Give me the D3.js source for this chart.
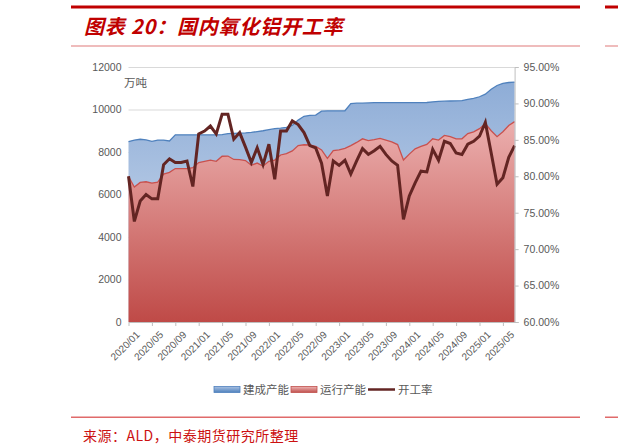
<!DOCTYPE html>
<html><head><meta charset="utf-8">
<script src="https://cdn.jsdelivr.net/npm/d3@7"></script>
<style>
html,body{margin:0;padding:0;background:#fff;}
svg{display:block;}
</style></head>
<body>
<svg id="c" width="618" height="448"></svg>
<script>
// ---- data ----
const months = [];
for (let y = 2020; y <= 2025; y++) for (let m = 1; m <= 12; m++) {
  if (y === 2025 && m > 7) break;
  months.push(y + "/" + String(m).padStart(2, "0"));
}
const builtCapacity = [8490,8560,8600,8570,8500,8560,8560,8520,8810,8810,8810,8810,8810,8810,8810,8810,8820,8860,8880,8890,8900,8920,8960,9000,9050,9100,9120,9160,9250,9500,9680,9720,9740,9920,9940,9940,9940,9940,10280,10300,10300,10310,10320,10320,10320,10320,10320,10320,10320,10320,10320,10330,10360,10380,10390,10400,10410,10420,10480,10520,10600,10720,10950,11130,11230,11270,11290];
const runningCapacity = [6840,6350,6570,6600,6540,6580,6960,7040,7220,7220,7220,7260,7500,7560,7620,7560,7800,7810,7650,7640,7600,7380,7480,7340,7560,7620,7860,7920,8050,8300,8340,8330,8260,8100,7700,8060,8100,8170,8300,8450,8620,8540,8580,8640,8560,8480,8350,7620,7900,8150,8260,8360,8620,8560,8780,8720,8620,8620,8870,8950,9100,9330,9000,8720,8950,9250,9430];
const operatingRate = [80.0,73.8,76.6,77.5,76.9,76.9,81.6,82.4,81.9,81.9,82.1,78.6,85.8,86.2,86.9,85.8,88.5,88.5,85.1,86.0,84.0,81.9,83.9,81.6,84.4,79.6,86.2,86.2,87.6,87.1,86.0,84.2,83.9,81.8,77.3,82.1,81.5,82.2,80.3,82.1,83.8,83.0,83.5,84.1,83.0,82.1,81.5,74.1,77.3,79.1,80.7,80.6,83.7,82.2,84.8,84.5,83.2,83.0,84.4,84.8,85.5,87.4,83.2,78.9,79.8,82.6,84.2];
const leftTicks = [0,2000,4000,6000,8000,10000,12000];
const rightTicks = [60,65,70,75,80,85,90,95];
const xTickLabels = months.filter((d,i) => i % 4 === 0);
const seriesNames = ["建成产能","运行产能","开工率"];
const titleText = "图表 20：国内氧化铝开工率";
const sourceText = "来源：ALD，中泰期货研究所整理";
const unitText = "万吨";

// ---- drawing ----
const svg = d3.select("#c");
const L = 128.5, R = 514.6, T = 67, B = 322;
const x = d3.scalePoint().domain(months).range([L, R]);
const yL = d3.scaleLinear().domain([0, 12000]).range([B, T]);
const yR = d3.scaleLinear().domain([60, 95]).range([B, T]);
const axisFont = "'Liberation Sans', Arial, sans-serif";
const cjk = "'Noto Sans CJK SC', sans-serif";
const gray = "#595959";

const defs = svg.append("defs");
const gB = defs.append("linearGradient").attr("id","gb").attr("gradientUnits","userSpaceOnUse")
  .attr("x1",0).attr("x2",0).attr("y1",T).attr("y2",B);
gB.append("stop").attr("offset","0").attr("stop-color","#89a9d5");
gB.append("stop").attr("offset","1").attr("stop-color","#d7e2f1");
const gR = defs.append("linearGradient").attr("id","gr").attr("gradientUnits","userSpaceOnUse")
  .attr("x1",0).attr("x2",0).attr("y1",110).attr("y2",B);
gR.append("stop").attr("offset","0").attr("stop-color","#eeb5b4");
gR.append("stop").attr("offset","1").attr("stop-color","#bf4a47");
const gLegB = defs.append("linearGradient").attr("id","glb").attr("x1",0).attr("x2",0).attr("y1",0).attr("y2",1);
gLegB.append("stop").attr("offset","0").attr("stop-color","#a9c1e2");
gLegB.append("stop").attr("offset","1").attr("stop-color","#4f81bd");
const gLegR = defs.append("linearGradient").attr("id","glr").attr("x1",0).attr("x2",0).attr("y1",0).attr("y2",1);
gLegR.append("stop").attr("offset","0").attr("stop-color","#eeb5b4");
gLegR.append("stop").attr("offset","1").attr("stop-color","#c0504d");

// header / footer decorations
svg.append("rect").attr("x",71).attr("y",5.5).attr("width",509).attr("height",3).attr("fill","#c00000");
svg.append("rect").attr("x",605).attr("y",5.5).attr("width",13).attr("height",3).attr("fill","#c00000");
svg.append("rect").attr("x",71).attr("y",45.5).attr("width",509).attr("height",1).attr("fill","#e07a7a");
svg.append("rect").attr("x",605).attr("y",45.5).attr("width",13).attr("height",1).attr("fill","#e07a7a");
svg.append("rect").attr("x",71).attr("y",416.5).attr("width",509).attr("height",1.5).attr("fill","#e06a6a");
svg.append("rect").attr("x",605).attr("y",416.5).attr("width",13).attr("height",1.5).attr("fill","#e06a6a");
svg.append("text").attr("x",84).attr("y",34).attr("fill","#c00000")
  .attr("font-family",cjk).attr("font-weight","bold").attr("font-style","italic")
  .attr("font-size",20).attr("letter-spacing",0.8).text(titleText);
svg.append("text").attr("x",83).attr("y",441).attr("fill","#cc1111")
  .attr("font-family",cjk).attr("font-size",14).attr("letter-spacing",0.5).text(sourceText);

// gridlines
svg.append("g").selectAll("line").data(leftTicks.slice(1)).join("line")
  .attr("x1",L).attr("x2",R).attr("y1",d=>yL(d)+0.5).attr("y2",d=>yL(d)+0.5)
  .attr("stroke","#d9d9d9").attr("stroke-width",1);

// areas
const idx = d3.range(months.length);
const areaBuilt = d3.area().x(i=>x(months[i])).y0(yL(0)).y1(i=>yL(builtCapacity[i]));
const areaRun = d3.area().x(i=>x(months[i])).y0(yL(0)).y1(i=>yL(runningCapacity[i]));
svg.append("path").datum(idx).attr("d",areaBuilt).attr("fill","url(#gb)");
svg.append("path").datum(idx).attr("d",d3.line().x(i=>x(months[i])).y(i=>yL(builtCapacity[i])))
  .attr("fill","none").attr("stroke","#4f81bd").attr("stroke-width",1.3);
svg.append("path").datum(idx).attr("d",areaRun).attr("fill","url(#gr)");
svg.append("path").datum(idx).attr("d",d3.line().x(i=>x(months[i])).y(i=>yL(runningCapacity[i])))
  .attr("fill","none").attr("stroke","#c9514e").attr("stroke-width",1.3);
svg.append("path").datum(idx).attr("d",d3.line().x(i=>x(months[i])).y(i=>yR(operatingRate[i])))
  .attr("fill","none").attr("stroke","#632523").attr("stroke-width",3).attr("stroke-linejoin","miter");

// axes
const axL = svg.append("g").attr("transform",`translate(${L},0)`)
  .call(d3.axisLeft(yL).tickValues(leftTicks).tickSize(0).tickPadding(7).tickFormat(d3.format("d")));
axL.select(".domain").remove();
axL.selectAll("text").attr("font-family",axisFont).attr("font-size",10.5).attr("fill",gray);

const axR = svg.append("g").attr("transform",`translate(${R},0)`)
  .call(d3.axisRight(yR).tickValues(rightTicks).tickSize(4).tickPadding(5).tickFormat(d=>d.toFixed(2)+"%"));
axR.select(".domain").attr("stroke","#bfbfbf");
axR.selectAll("line").attr("stroke","#bfbfbf");
axR.selectAll("text").attr("font-family",axisFont).attr("font-size",10.5).attr("fill",gray);

const axB = svg.append("g").attr("transform",`translate(0,${B})`)
  .call(d3.axisBottom(x).tickValues(xTickLabels).tickSize(4).tickSizeOuter(0).tickPadding(3));
axB.select(".domain").attr("stroke","#bfbfbf");
axB.selectAll("line").attr("stroke","#bfbfbf");
axB.selectAll("text").attr("font-family",axisFont).attr("font-size",10).attr("fill",gray)
  .attr("text-anchor","end").attr("dy","0.35em").attr("dx","0")
  .attr("transform","translate(4,6) rotate(-45)");

// unit
svg.append("text").attr("x",124).attr("y",87).attr("font-family",cjk).attr("font-size",11.5)
  .attr("fill",gray).text(unitText);

// legend
const lg = svg.append("g").attr("font-family",cjk).attr("font-size",11.5).attr("fill",gray);
lg.append("rect").attr("x",214).attr("y",386.5).attr("width",26).attr("height",6).attr("fill","url(#glb)").attr("stroke","#4f81bd").attr("stroke-width",0.8);
lg.append("text").attr("x",243).attr("y",394).text(seriesNames[0]);
lg.append("rect").attr("x",291).attr("y",386.5).attr("width",26).attr("height",6).attr("fill","url(#glr)").attr("stroke","#c0504d").attr("stroke-width",0.8);
lg.append("text").attr("x",320).attr("y",394).text(seriesNames[1]);
lg.append("line").attr("x1",368).attr("x2",395).attr("y1",389.5).attr("y2",389.5).attr("stroke","#632523").attr("stroke-width",2.5);
lg.append("text").attr("x",398).attr("y",394).text(seriesNames[2]);
</script>
</body></html>
